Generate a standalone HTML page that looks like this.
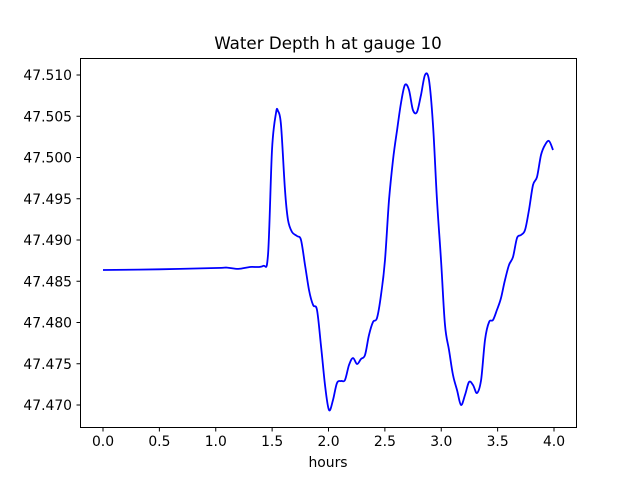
<!DOCTYPE html>
<html><head><meta charset="utf-8"><style>
body{margin:0;background:#fff}
svg text{font-family:"DejaVu Sans","Liberation Sans",sans-serif;fill:#000}
</style></head><body>
<svg id="chart" width="640" height="480">
<rect width="640" height="480" fill="#fff"/>
<text x="328" y="49" font-size="16.7" text-anchor="middle">Water Depth h at gauge 10</text>
<text x="328" y="467" font-size="13.9" text-anchor="middle">hours</text>
<g id="ticks"></g>
<path id="line" fill="none" stroke="#0000ff" stroke-width="1.8" stroke-linejoin="round"/>
<rect x="80.5" y="58.5" width="496" height="369" fill="none" stroke="#000" stroke-width="1"/>
</svg>
<script>
const hours=[0,0.5,1.0,1.1,1.2,1.304,1.419,1.463,1.499,1.534,1.552,1.579,1.614,1.641,1.676,1.721,1.756,1.792,1.827,1.863,1.898,1.933,1.969,2.004,2.040,2.075,2.111,2.146,2.182,2.217,2.253,2.288,2.324,2.359,2.395,2.430,2.466,2.501,2.537,2.572,2.608,2.643,2.678,2.714,2.749,2.785,2.820,2.856,2.891,2.927,2.962,2.998,3.033,3.069,3.104,3.140,3.175,3.211,3.246,3.282,3.317,3.353,3.388,3.424,3.459,3.494,3.530,3.565,3.601,3.636,3.672,3.707,3.743,3.778,3.814,3.849,3.885,3.920,3.956,3.991];
const depth=[47.48636,47.48645,47.4866,47.48665,47.4865,47.48673,47.48685,47.48818,47.50091,47.50539,47.50564,47.50394,47.49606,47.49242,47.49097,47.49048,47.49000,47.48697,47.48394,47.48212,47.48152,47.47727,47.47242,47.46939,47.47061,47.47267,47.47291,47.47303,47.47485,47.47570,47.47497,47.47558,47.47606,47.47848,47.48006,47.48055,47.48333,47.48758,47.49485,47.49970,47.50333,47.50661,47.50879,47.50818,47.50576,47.50552,47.50758,47.51000,47.50939,47.50394,47.49485,47.48758,47.47970,47.47667,47.47364,47.47182,47.47000,47.47121,47.47279,47.47242,47.47145,47.47303,47.47788,47.48006,47.48030,47.48152,47.48297,47.48515,47.48697,47.48794,47.49024,47.49061,47.49121,47.49364,47.49667,47.49764,47.50030,47.50152,47.50200,47.50091];
const xTicks=[0,0.5,1.0,1.5,2.0,2.5,3.0,3.5,4.0];
const yTicks=[47.470,47.475,47.480,47.485,47.490,47.495,47.500,47.505,47.510];
const NS="http://www.w3.org/2000/svg";
const xs=v=>103+v*112.75;
const ys=v=>405-(v-47.470)*8250;
const g=document.getElementById('ticks');
xTicks.forEach(t=>{
  const l=document.createElementNS(NS,'line');
  
  
  l.setAttribute('x1',xs(t));l.setAttribute('x2',xs(t));l.setAttribute('y1',427.5);l.setAttribute('y2',431.5);l.setAttribute('stroke','#000');
  g.appendChild(l);
  const tx=document.createElementNS(NS,'text');
  
  
  tx.setAttribute('x',xs(t));tx.setAttribute('y',446);tx.setAttribute('font-size','13.9');tx.setAttribute('text-anchor','middle');
  tx.textContent=t.toFixed(1);g.appendChild(tx);
});
yTicks.forEach(t=>{
  const l=document.createElementNS(NS,'line');
  
  
  l.setAttribute('x1',76.5);l.setAttribute('x2',80.5);l.setAttribute('y1',ys(t));l.setAttribute('y2',ys(t));l.setAttribute('stroke','#000');
  g.appendChild(l);
  const tx=document.createElementNS(NS,'text');
  
  
  tx.setAttribute('x',72);tx.setAttribute('y',ys(t)+5);tx.setAttribute('font-size','13.9');tx.setAttribute('text-anchor','end');
  tx.textContent=t.toFixed(3);g.appendChild(tx);
});
const P=hours.map((h,i)=>[xs(h),ys(depth[i])]);
let d='M'+P[0][0].toFixed(1)+','+P[0][1].toFixed(1);
for(let i=0;i<P.length-1;i++){
  const p0=P[Math.max(0,i-1)],p1=P[i],p2=P[i+1],p3=P[Math.min(P.length-1,i+2)];
  const c1=[p1[0]+(p2[0]-p0[0])/6,p1[1]+(p2[1]-p0[1])/6];
  const c2=[p2[0]-(p3[0]-p1[0])/6,p2[1]-(p3[1]-p1[1])/6];
  d+='C'+c1.map(v=>v.toFixed(1)).join(',')+' '+c2.map(v=>v.toFixed(1)).join(',')+' '+p2.map(v=>v.toFixed(1)).join(',');
}
document.getElementById('line').setAttribute('d',d);
</script>
</body></html>
